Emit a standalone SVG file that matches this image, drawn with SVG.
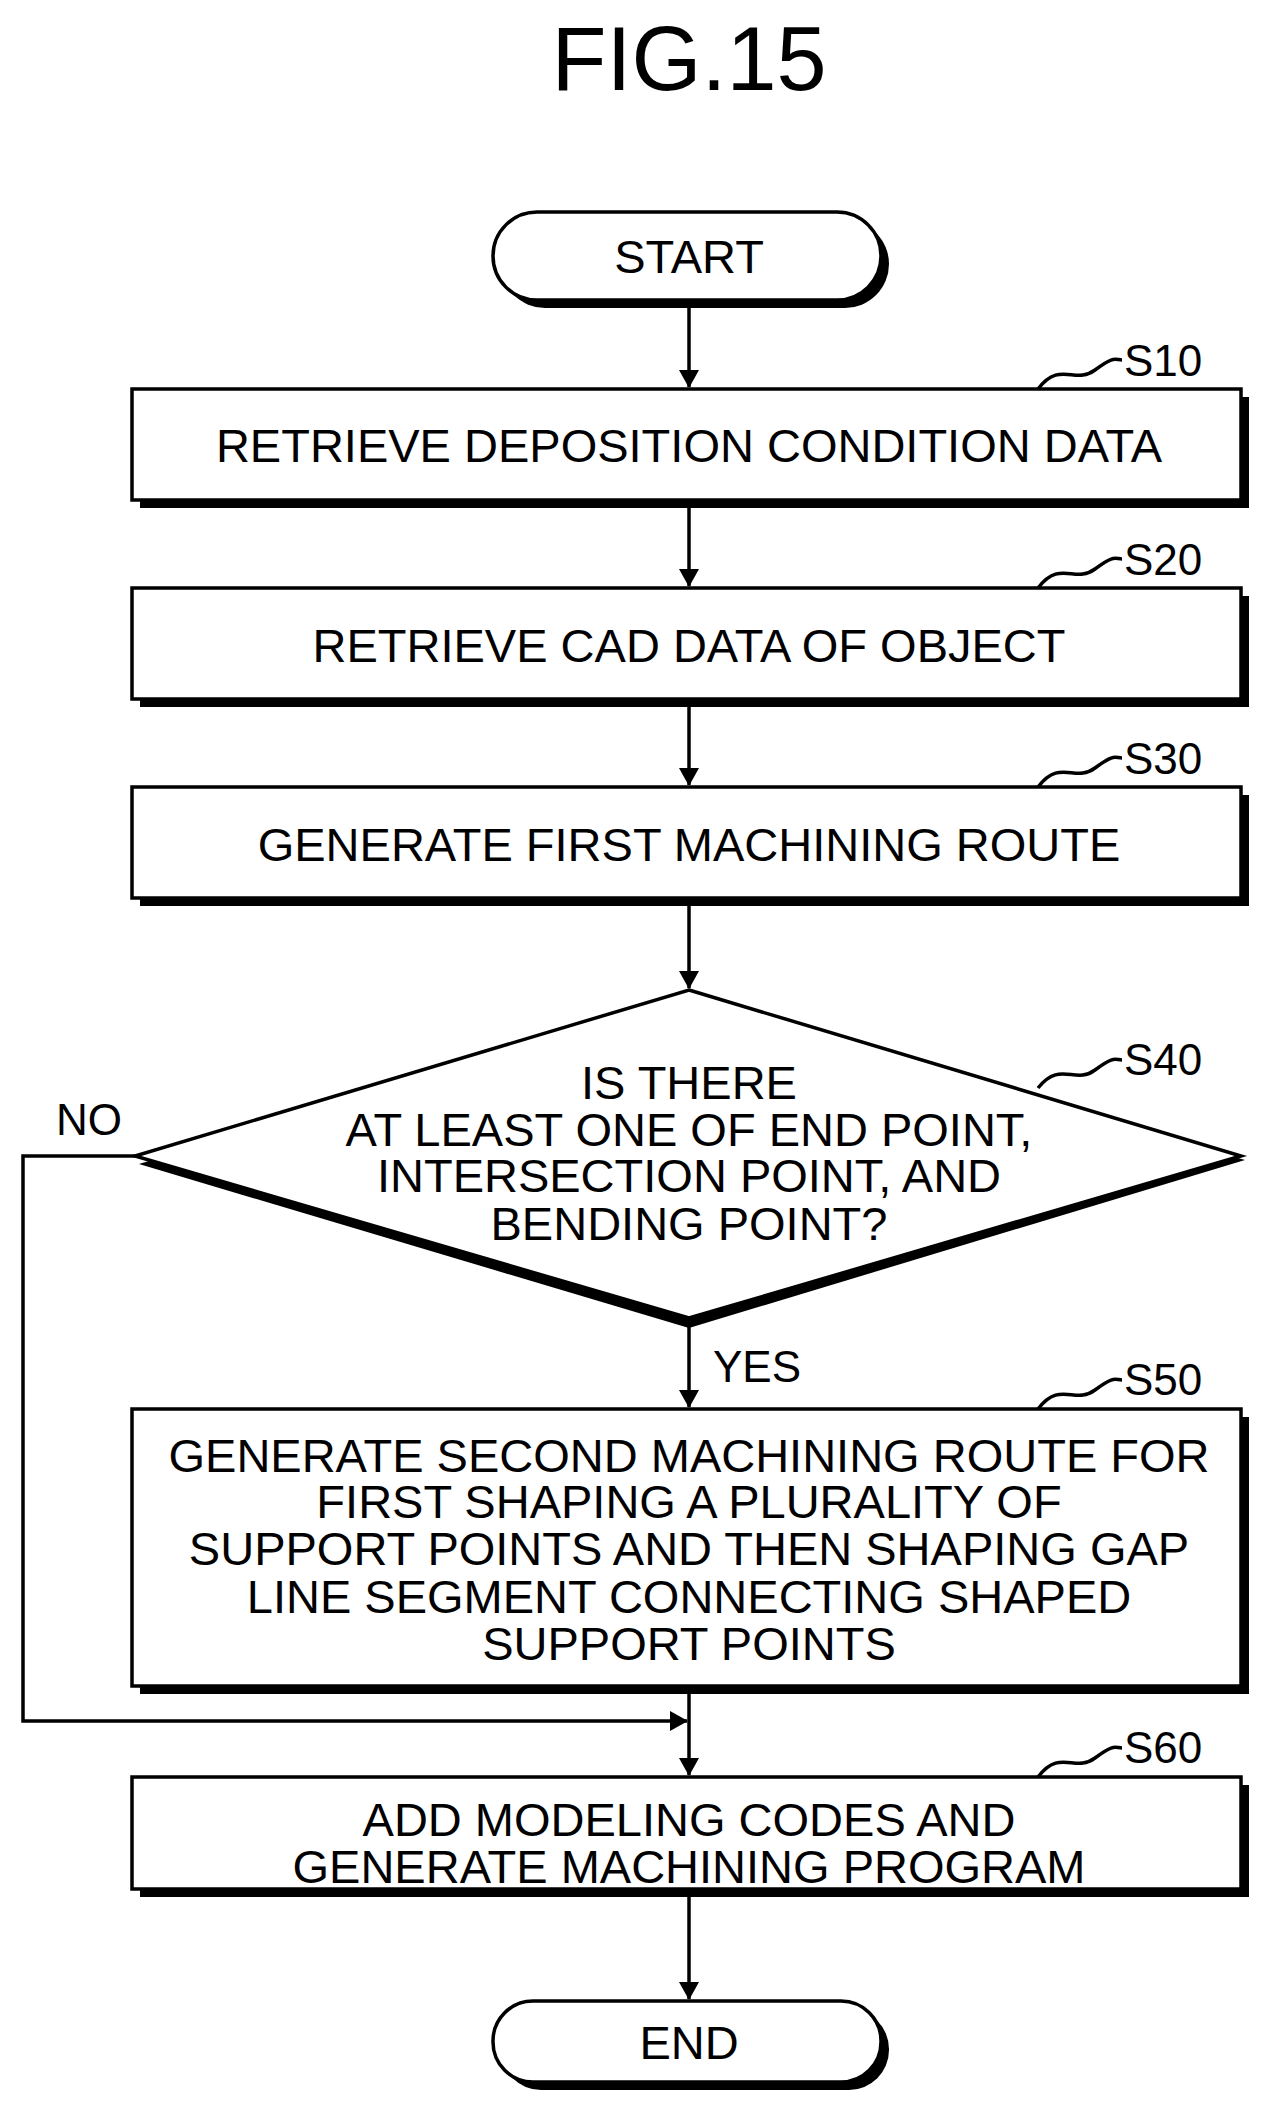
<svg xmlns="http://www.w3.org/2000/svg" width="1279" height="2124" viewBox="0 0 1279 2124">
<defs>
<style>
text{font-family:"Liberation Sans",Arial,sans-serif;fill:#000}
.t{font-size:47px;text-anchor:middle}
.lbl{font-size:44px}
.box{fill:#fff;stroke:#000;stroke-width:3.5}
.sh{fill:#000}
.ln{fill:none;stroke:#000;stroke-width:3.5}
</style>
<marker id="ar" markerWidth="18" markerHeight="20" refX="17" refY="10" orient="auto" markerUnits="userSpaceOnUse"><path d="M0,0 L18,10 L0,20 Z" fill="#000"/></marker>
</defs>
<rect width="1279" height="2124" fill="#fff"/>
<text x="689" y="90" font-size="90" text-anchor="middle">FIG.15</text>
<g id="start"><rect class="sh" x="501" y="220" width="388" height="88" rx="44"/><rect class="box" x="493" y="212" width="388" height="88" rx="44"/><text class="t" x="689" y="273">START</text></g>
<g id="s10"><rect class="sh" x="140" y="397" width="1109" height="111"/><rect class="box" x="132" y="389" width="1109" height="111"/><text class="t" x="689" y="462">RETRIEVE DEPOSITION CONDITION DATA</text>
<path class="ln" d="M1038,389 C1060,360 1075,385 1095,370 S1115,360 1122,360" stroke-width="2"/><text class="lbl" x="1124" y="376">S10</text></g>
<g id="s20"><rect class="sh" x="140" y="596" width="1109" height="111"/><rect class="box" x="132" y="588" width="1109" height="111"/><text class="t" x="689" y="662">RETRIEVE CAD DATA OF OBJECT</text>
<path class="ln" d="M1038,588 C1060,559 1075,584 1095,569 S1115,559 1122,559" stroke-width="2"/><text class="lbl" x="1124" y="575">S20</text></g>
<g id="s30"><rect class="sh" x="140" y="795" width="1109" height="111"/><rect class="box" x="132" y="787" width="1109" height="111"/><text class="t" x="689" y="861">GENERATE FIRST MACHINING ROUTE</text>
<path class="ln" d="M1038,787 C1060,758 1075,783 1095,768 S1115,758 1122,758" stroke-width="2"/><text class="lbl" x="1124" y="774">S30</text></g>
<g id="s40"><polygon class="sh" points="689,998 1245,1160 689,1328 139,1164"/><polygon class="box" points="689,990 1241,1156 689,1318 135,1156"/>
<text class="t" x="689" y="1099">IS THERE</text><text class="t" x="689" y="1146">AT LEAST ONE OF END POINT,</text><text class="t" x="689" y="1192">INTERSECTION POINT, AND</text><text class="t" x="689" y="1240">BENDING POINT?</text>
<path class="ln" d="M1038,1088 C1060,1060 1075,1085 1095,1070 S1115,1060 1122,1060" stroke-width="2"/><text class="lbl" x="1124" y="1075">S40</text></g>
<g id="s50"><rect class="sh" x="140" y="1417" width="1109" height="277"/><rect class="box" x="132" y="1409" width="1109" height="277"/>
<text class="t" x="689" y="1472">GENERATE SECOND MACHINING ROUTE FOR</text><text class="t" x="689" y="1518">FIRST SHAPING A PLURALITY OF</text><text class="t" x="689" y="1565">SUPPORT POINTS AND THEN SHAPING GAP</text><text class="t" x="689" y="1613">LINE SEGMENT CONNECTING SHAPED</text><text class="t" x="689" y="1660">SUPPORT POINTS</text>
<path class="ln" d="M1038,1409 C1060,1380 1075,1405 1095,1390 S1115,1380 1122,1380" stroke-width="2"/><text class="lbl" x="1124" y="1395">S50</text></g>
<g id="s60"><rect class="sh" x="140" y="1785" width="1109" height="112"/><rect class="box" x="132" y="1777" width="1109" height="112"/>
<text class="t" x="689" y="1836">ADD MODELING CODES AND</text><text class="t" x="689" y="1883">GENERATE MACHINING PROGRAM</text>
<path class="ln" d="M1038,1777 C1060,1748 1075,1773 1095,1758 S1115,1748 1122,1748" stroke-width="2"/><text class="lbl" x="1124" y="1763">S60</text></g>
<g id="end"><rect class="sh" x="501" y="2009" width="388" height="81" rx="40"/><rect class="box" x="493" y="2001" width="388" height="81" rx="40"/><text class="t" x="689" y="2059">END</text></g>
<g id="connectors">
<line class="ln" x1="689" y1="300" x2="689" y2="387" marker-end="url(#ar)"/>
<line class="ln" x1="689" y1="508" x2="689" y2="586" marker-end="url(#ar)"/>
<line class="ln" x1="689" y1="707" x2="689" y2="785" marker-end="url(#ar)"/>
<line class="ln" x1="689" y1="906" x2="689" y2="988" marker-end="url(#ar)"/>
<line class="ln" x1="689" y1="1326" x2="689" y2="1407" marker-end="url(#ar)"/>
<polyline class="ln" points="135,1156 23,1156 23,1721 687,1721" marker-end="url(#ar)"/>
<line class="ln" x1="689" y1="1694" x2="689" y2="1775" marker-end="url(#ar)"/>
<line class="ln" x1="689" y1="1897" x2="689" y2="1999" marker-end="url(#ar)"/>
<text class="lbl" x="56" y="1135">NO</text>
<text class="lbl" x="713" y="1382">YES</text>
</g>
</svg>
